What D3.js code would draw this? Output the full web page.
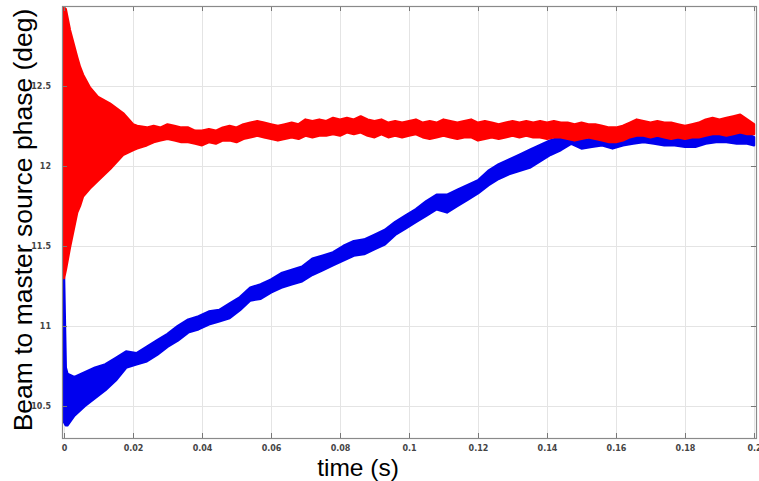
<!DOCTYPE html>
<html>
<head>
<meta charset="utf-8">
<script src="https://cdn.jsdelivr.net/npm/d3@7"></script>
<style>
  html, body { margin: 0; padding: 0; background: #fff; }
  svg { display: block; }
</style>
</head>
<body>
<svg id="chart" width="759" height="481"></svg>
<script>
// ---------------- data ----------------
const xTicks = [0, 0.02, 0.04, 0.06, 0.08, 0.1, 0.12, 0.14, 0.16, 0.18, 0.2];
const xTickLabels = ["0", "0.02", "0.04", "0.06", "0.08", "0.1", "0.12", "0.14", "0.16", "0.18", "0.2"];
const yTicks = [10.5, 11, 11.5, 12, 12.5];
const yTickLabels = ["10.5", "11", "11.5", "12", "12.5"];

// red series: time (s), lower and upper edge of the trace band (deg)
const redTime = [0, 0.0005, 0.0017, 0.0038, 0.0046, 0.0055, 0.0075, 0.0099, 0.0133, 0.0171, 0.020, 0.0212,
  0.024, 0.026, 0.028, 0.030, 0.032, 0.034, 0.036, 0.038, 0.040, 0.042, 0.044, 0.046, 0.048, 0.050,
  0.052, 0.054, 0.056, 0.058, 0.060, 0.062, 0.064, 0.066, 0.068, 0.070, 0.072, 0.074, 0.076, 0.078,
  0.080, 0.082, 0.084, 0.086, 0.088, 0.090, 0.092, 0.094, 0.096, 0.098, 0.100, 0.102, 0.104, 0.106,
  0.108, 0.110, 0.112, 0.114, 0.116, 0.118, 0.120, 0.122, 0.124, 0.126, 0.128, 0.130, 0.132, 0.134,
  0.136, 0.138, 0.140, 0.142, 0.144, 0.146, 0.148, 0.150, 0.152, 0.154, 0.156, 0.158, 0.160, 0.162,
  0.164, 0.166, 0.168, 0.170, 0.172, 0.174, 0.176, 0.178, 0.180, 0.182, 0.184, 0.186, 0.188, 0.190,
  0.192, 0.194, 0.196, 0.198, 0.200];
const redLow = [11.30, 11.35, 11.49, 11.71, 11.75, 11.81, 11.86, 11.91, 11.98, 12.07, 12.10, 12.11,
  12.13, 12.15, 12.16, 12.17, 12.16, 12.15, 12.15, 12.14, 12.13, 12.15, 12.14, 12.16, 12.16, 12.15,
  12.17, 12.18, 12.19, 12.18, 12.17, 12.16, 12.17, 12.18, 12.17, 12.19, 12.18, 12.19, 12.19, 12.20,
  12.19, 12.21, 12.20, 12.21, 12.19, 12.18, 12.20, 12.18, 12.19, 12.18, 12.19, 12.20, 12.18, 12.17,
  12.18, 12.19, 12.18, 12.17, 12.18, 12.18, 12.16, 12.17, 12.18, 12.17, 12.18, 12.19, 12.18, 12.19,
  12.18, 12.18, 12.17, 12.18, 12.18, 12.17, 12.16, 12.17, 12.18, 12.17, 12.16, 12.15, 12.15, 12.16,
  12.18, 12.19, 12.19, 12.18, 12.19, 12.18, 12.17, 12.18, 12.17, 12.18, 12.18, 12.19, 12.20, 12.20,
  12.19, 12.20, 12.21, 12.20, 12.20];
const redHigh = [12.99, 12.98, 12.85, 12.68, 12.62, 12.57, 12.49, 12.43, 12.39, 12.33, 12.26, 12.25,
  12.24, 12.25, 12.24, 12.26, 12.25, 12.24, 12.24, 12.22, 12.22, 12.23, 12.22, 12.24, 12.25, 12.24,
  12.26, 12.27, 12.28, 12.27, 12.26, 12.25, 12.26, 12.27, 12.26, 12.29, 12.28, 12.29, 12.28, 12.30,
  12.29, 12.30, 12.29, 12.31, 12.29, 12.28, 12.29, 12.27, 12.28, 12.27, 12.28, 12.29, 12.27, 12.28,
  12.27, 12.29, 12.28, 12.27, 12.28, 12.29, 12.27, 12.28, 12.27, 12.26, 12.27, 12.28, 12.27, 12.28,
  12.27, 12.28, 12.27, 12.28, 12.27, 12.27, 12.26, 12.27, 12.26, 12.26, 12.25, 12.24, 12.24, 12.25,
  12.27, 12.29, 12.28, 12.27, 12.28, 12.27, 12.27, 12.26, 12.25, 12.26, 12.27, 12.29, 12.30, 12.29,
  12.30, 12.31, 12.32, 12.29, 12.26];

// blue series: time (s), lower and upper edge of the trace band (deg)
const blueTime = [0, 0.0005, 0.0010, 0.003, 0.006, 0.009, 0.012, 0.015, 0.018, 0.021, 0.024, 0.027,
  0.030, 0.033, 0.036, 0.039, 0.042, 0.045, 0.048, 0.051, 0.054, 0.057, 0.060, 0.063, 0.066, 0.069,
  0.072, 0.075, 0.078, 0.081, 0.084, 0.087, 0.090, 0.093, 0.096, 0.099, 0.102, 0.105, 0.108, 0.111,
  0.114, 0.117, 0.120, 0.123, 0.126, 0.129, 0.132, 0.135, 0.138, 0.141, 0.144, 0.147, 0.150, 0.153,
  0.156, 0.159, 0.162, 0.165, 0.168, 0.171, 0.174, 0.177, 0.180, 0.183, 0.186, 0.189, 0.192, 0.195,
  0.198, 0.200];
const blueLow = [10.40, 10.38, 10.38, 10.44, 10.50, 10.55, 10.60, 10.66, 10.74, 10.76, 10.78, 10.82,
  10.87, 10.91, 10.96, 10.98, 11.01, 11.03, 11.05, 11.10, 11.16, 11.17, 11.21, 11.24, 11.26, 11.28,
  11.32, 11.35, 11.38, 11.41, 11.44, 11.45, 11.48, 11.51, 11.57, 11.61, 11.65, 11.69, 11.73, 11.71,
  11.75, 11.79, 11.83, 11.88, 11.92, 11.95, 11.97, 11.99, 12.03, 12.07, 12.10, 12.14, 12.11, 12.12,
  12.13, 12.11, 12.13, 12.14, 12.15, 12.14, 12.13, 12.13, 12.12, 12.12, 12.14, 12.15, 12.15, 12.14,
  12.14, 12.13];
const blueHigh = [11.30, 10.74, 10.70, 10.68, 10.71, 10.74, 10.76, 10.80, 10.84, 10.83, 10.87, 10.91,
  10.95, 11.00, 11.04, 11.06, 11.09, 11.10, 11.14, 11.18, 11.24, 11.26, 11.29, 11.33, 11.35, 11.37,
  11.42, 11.44, 11.46, 11.50, 11.53, 11.54, 11.57, 11.60, 11.65, 11.69, 11.73, 11.78, 11.82, 11.82,
  11.85, 11.88, 11.91, 11.97, 12.01, 12.04, 12.07, 12.10, 12.13, 12.16, 12.18, 12.21, 12.16, 12.17,
  12.17, 12.16, 12.18, 12.19, 12.20, 12.20, 12.18, 12.18, 12.17, 12.17, 12.20, 12.21, 12.21, 12.21,
  12.20, 12.18];

// ---------------- layout ----------------
const svg = d3.select("#chart");
const L = 62, R = 756, T = 6, B = 438;
const x = d3.scaleLinear().domain([-0.00058, 0.20058]).range([L, R]);
const y = d3.scaleLinear().domain([10.3, 13.0]).range([B, T]);

// grid
const grid = svg.append("g").attr("stroke", "#e4e4e4").attr("stroke-width", 1);
xTicks.forEach(t => grid.append("line")
  .attr("x1", Math.round(x(t)) + 0.5).attr("x2", Math.round(x(t)) + 0.5)
  .attr("y1", T).attr("y2", B));
yTicks.forEach(t => grid.append("line")
  .attr("x1", L).attr("x2", R)
  .attr("y1", Math.round(y(t)) + 0.5).attr("y2", Math.round(y(t)) + 0.5));

// clip
svg.append("clipPath").attr("id", "plotclip")
  .append("rect").attr("x", L).attr("y", T).attr("width", R - L).attr("height", B - T);

const plot = svg.append("g").attr("clip-path", "url(#plotclip)");

function band(time, lo, hi) {
  return time.map((t, i) => ({ t, lo: lo[i], hi: hi[i] }));
}
const area = d3.area()
  .x(d => x(d.t))
  .y0(d => y(d.lo))
  .y1(d => y(d.hi))
  .curve(d3.curveLinear);

plot.append("path")
  .datum(band(blueTime, blueLow, blueHigh))
  .attr("d", area)
  .attr("fill", "#0000ee")
  .attr("stroke", "#0000ee")
  .attr("stroke-width", 2.5)
  .attr("stroke-linejoin", "round");

plot.append("path")
  .datum(band(redTime, redLow, redHigh))
  .attr("d", area)
  .attr("fill", "#ff0000")
  .attr("stroke", "#ff0000")
  .attr("stroke-width", 2.5)
  .attr("stroke-linejoin", "round");

// axes (ticks pointing inward)
const tickColor = "#777";
const xAxisB = d3.axisBottom(x).tickValues(xTicks).tickSize(-5).tickFormat((d, i) => xTickLabels[i]).tickPadding(7);
const xAxisT = d3.axisTop(x).tickValues(xTicks).tickSize(-5).tickFormat("");
const yAxisL = d3.axisLeft(y).tickValues(yTicks).tickSize(-5).tickFormat((d, i) => yTickLabels[i]).tickPadding(11);
const yAxisR = d3.axisRight(y).tickValues(yTicks).tickSize(-5).tickFormat("");

function styleAxis(g) {
  g.select(".domain").remove();
  g.selectAll("line").attr("stroke", tickColor);
  g.selectAll("text")
    .attr("fill", "#444")
    .style("font-family", "'DejaVu Sans', sans-serif")
    .style("font-weight", "bold")
    .style("font-size", "8px");
}
svg.append("g").attr("transform", `translate(0,${B})`).call(xAxisB).call(styleAxis);
svg.append("g").attr("transform", `translate(0,${T})`).call(xAxisT).call(styleAxis);
svg.append("g").attr("transform", `translate(${L},0)`).call(yAxisL).call(styleAxis);
svg.append("g").attr("transform", `translate(${R},0)`).call(yAxisR).call(styleAxis);

// frame
svg.append("rect")
  .attr("x", L + 0.5).attr("y", T + 0.5)
  .attr("width", R - L).attr("height", B - T)
  .attr("fill", "none").attr("stroke", "#8a8a8a").attr("stroke-width", 1.2);

// axis titles
svg.append("text")
  .attr("x", 358).attr("y", 476)
  .attr("text-anchor", "middle")
  .style("font-family", "'Liberation Sans', Arial, sans-serif")
  .style("font-size", "24.5px")
  .attr("fill", "#000")
  .text("time (s)");

svg.append("text")
  .attr("transform", "translate(32,220) rotate(-90)")
  .attr("text-anchor", "middle")
  .style("font-family", "'Liberation Sans', Arial, sans-serif")
  .style("font-size", "26.5px")
  .attr("fill", "#000")
  .text("Beam to master source phase (deg)");
</script>
</body>
</html>
